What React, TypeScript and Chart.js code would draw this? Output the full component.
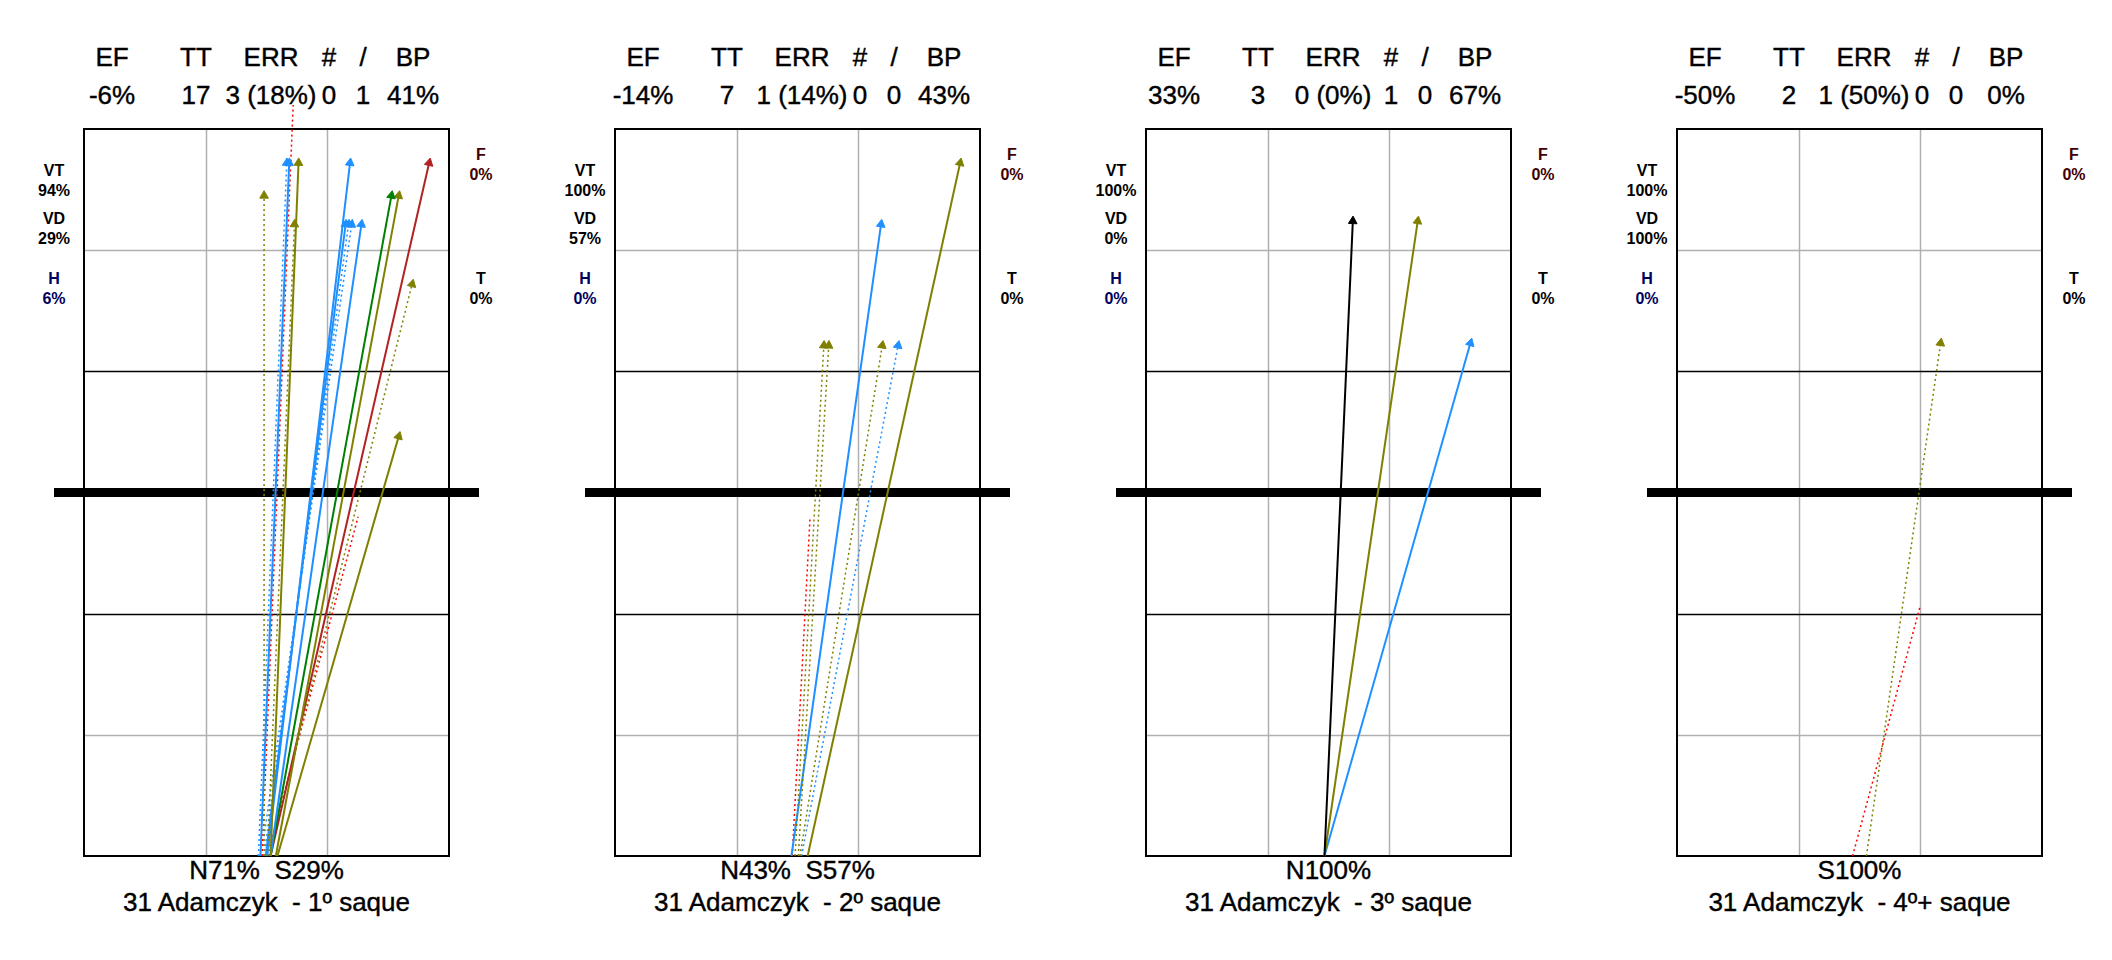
import React, { useEffect, useRef } from 'react';
import { Chart, registerables } from 'chart.js';

Chart.register(...registerables);

// court in metres: x 0..9, y 0..18 (serve from y=0)
const panelTitles = ['31 Adamczyk  - 1º saque', '31 Adamczyk  - 2º saque', '31 Adamczyk  - 3º saque', '31 Adamczyk  - 4º+ saque'];
const headerLabels = ['EF', 'TT', 'ERR', '#', '/', 'BP'];
const headerValues = [
  ['-6%', '17', '3 (18%)', '0', '1', '41%'],
  ['-14%', '7', '1 (14%)', '0', '0', '43%'],
  ['33%', '3', '0 (0%)', '1', '0', '67%'],
  ['-50%', '2', '1 (50%)', '0', '0', '0%'],
];
const zoneLabels = [
  ['94%', '29%', '6%'],
  ['100%', '57%', '0%'],
  ['100%', '0%', '0%'],
  ['100%', '100%', '0%'],
];
const sideLabels = ['N71%  S29%', 'N43%  S57%', 'N100%', 'S100%'];

// [startX, endX, endY, colour, dotted, head]
type Serve = [number, number, number, string, boolean, boolean];
const serves1: Serve[] = [
  [4.35, 5.06, 17.16, '#1e90ff', false, true],
  [4.3, 5.0, 17.16, '#1e90ff', true, true],
  [4.6, 5.29, 17.16, '#808000', false, true],
  [4.44, 4.44, 16.35, '#808000', true, true],
  [4.39, 5.17, 18.9, '#ff0000', true, false],
  [4.52, 5.19, 15.64, '#808000', true, true],
  [4.52, 6.56, 17.16, '#1e90ff', false, true],
  [4.44, 6.52, 15.64, '#1e90ff', true, true],
  [4.48, 6.45, 15.64, '#1e90ff', false, true],
  [4.37, 6.6, 15.64, '#1e90ff', true, true],
  [4.6, 6.84, 15.64, '#1e90ff', false, true],
  [4.6, 7.58, 16.35, '#008000', false, true],
  [4.73, 7.76, 16.35, '#808000', false, true],
  [4.6, 8.51, 17.16, '#b22222', false, true],
  [4.56, 8.09, 14.16, '#808000', true, true],
  [4.77, 7.76, 10.39, '#808000', false, true],
  [4.52, 6.76, 8.4, '#ff0000', true, false],
];
const serves2: Serve[] = [
  [4.44, 5.15, 12.64, '#808000', true, true],
  [4.52, 5.27, 12.64, '#808000', true, true],
  [4.56, 6.59, 12.64, '#808000', true, true],
  [4.6, 6.98, 12.64, '#1e90ff', true, true],
  [4.35, 6.56, 15.64, '#1e90ff', false, true],
  [4.75, 8.51, 17.16, '#808000', false, true],
  [4.37, 4.81, 8.4, '#ff0000', true, false],
];
const serves3: Serve[] = [
  [4.4, 5.1, 15.72, '#000000', false, true],
  [4.4, 6.7, 15.72, '#808000', false, true],
  [4.4, 8.0, 12.7, '#1e90ff', false, true],
];
const serves4: Serve[] = [
  [4.67, 6.5, 12.7, '#808000', true, true],
  [4.33, 6.0, 6.2, '#ff0000', true, false],
];
const allServes = [serves1, serves2, serves3, serves4];

const FONT = '"Liberation Sans", Arial, sans-serif';
const FRAME_W = 365;
const FRAME_H = 727;
const FRAME_TOP = 129;
const PAD = { left: 30, right: 30, top: 24, bottom: 6 };

const courtPlugin = {
  id: 'court',
  beforeDatasetsDraw(chart: any) {
    const { ctx, scales } = chart;
    const x = scales.x, y = scales.y;
    const l = x.getPixelForValue(0), r = x.getPixelForValue(9);
    const t = y.getPixelForValue(18), b = y.getPixelForValue(0);
    ctx.save();
    ctx.lineWidth = 1.5;
    ctx.strokeStyle = '#b0b0b0';
    [3, 6].forEach((v) => {
      const px = Math.round(x.getPixelForValue(v)) + 0.5;
      ctx.beginPath(); ctx.moveTo(px, t); ctx.lineTo(px, b); ctx.stroke();
    });
    [3, 15].forEach((v) => {
      const py = Math.round(y.getPixelForValue(v)) + 0.5;
      ctx.beginPath(); ctx.moveTo(l, py); ctx.lineTo(r, py); ctx.stroke();
    });
    ctx.strokeStyle = '#000';
    [6, 12].forEach((v) => {
      const py = Math.round(y.getPixelForValue(v)) + 0.5;
      ctx.beginPath(); ctx.moveTo(l, py); ctx.lineTo(r, py); ctx.stroke();
    });
    ctx.lineWidth = 2;
    ctx.strokeRect(l, t, r - l, b - t);
    const ny = y.getPixelForValue(9);
    ctx.lineWidth = 9;
    ctx.beginPath(); ctx.moveTo(l - 30, ny); ctx.lineTo(r + 30, ny); ctx.stroke();
    ctx.restore();
  },
};

const Court: React.FC<{ serves: Serve[] }> = ({ serves }) => {
  const ref = useRef<HTMLCanvasElement>(null);
  useEffect(() => {
    if (!ref.current) return;
    const datasets = serves.map(([sx, ex, ey, c, dotted, head]) => {
      const angle = (Math.atan2(ex - sx, ey) * 180) / Math.PI;
      return {
        data: [{ x: sx, y: 0 }, { x: ex, y: ey }],
        borderColor: c,
        backgroundColor: c,
        borderWidth: dotted ? 1.5 : 2,
        borderDash: dotted ? [2, 3] : [],
        pointRadius: [0, head ? 5 : 0],
        pointStyle: 'triangle',
        pointRotation: [0, angle],
        pointBorderWidth: 1,
        showLine: true,
        clip: false,
      };
    });
    const chart = new Chart(ref.current, {
      type: 'scatter',
      data: { datasets },
      options: {
        animation: false,
        responsive: true,
        maintainAspectRatio: false,
        layout: { padding: PAD },
        plugins: { legend: { display: false }, tooltip: { enabled: false } },
        scales: {
          x: { type: 'linear', min: 0, max: 9, display: false },
          y: { type: 'linear', min: 0, max: 18, display: false },
        },
      },
      plugins: [courtPlugin],
    } as any);
    return () => chart.destroy();
  }, [serves]);
  return <canvas ref={ref} />;
};

const headerX = [28, 112, 187, 245, 279, 329];

const Panel: React.FC<{ i: number }> = ({ i }) => {
  const left = 84 + 531 * i;
  const abs = (x: number, y: number, extra: React.CSSProperties = {}): React.CSSProperties => ({
    position: 'absolute', left: left + x, top: y, transform: 'translate(-50%, -50%)', whiteSpace: 'pre', ...extra,
  });
  const small: React.CSSProperties = { fontSize: 16, fontWeight: 'bold', textAlign: 'center', lineHeight: '20px' };
  const big: React.CSSProperties = { fontSize: 26, WebkitTextStroke: '0.4px #000' };
  return (
    <>
      {headerLabels.map((h, k) => (
        <div key={'h' + k} style={abs(headerX[k], 57, big)}>{h}</div>
      ))}
      {headerValues[i].map((h, k) => (
        <div key={'v' + k} style={abs(headerX[k], 95, big)}>{h}</div>
      ))}
      <div style={abs(-30, 181, { ...small })}>VT<br />{zoneLabels[i][0]}</div>
      <div style={abs(-30, 229, { ...small })}>VD<br />{zoneLabels[i][1]}</div>
      <div style={abs(-30, 289, { ...small, color: '#000060' })}>H<br />{zoneLabels[i][2]}</div>
      <div style={abs(FRAME_W + 32, 165, { ...small, color: '#400000' })}>F<br />0%</div>
      <div style={abs(FRAME_W + 32, 289, { ...small })}>T<br />0%</div>
      <div style={abs(FRAME_W / 2, 870, big)}>{sideLabels[i]}</div>
      <div style={abs(FRAME_W / 2, 902, big)}>{panelTitles[i]}</div>
      <div style={{
        position: 'absolute', left: left - PAD.left, top: FRAME_TOP - PAD.top,
        width: FRAME_W + PAD.left + PAD.right, height: FRAME_H + PAD.top + PAD.bottom,
      }}>
        <Court serves={allServes[i]} />
      </div>
    </>
  );
};

export default function App() {
  useEffect(() => {
    document.body.style.margin = '0';
  }, []);
  return (
    <div style={{ position: 'relative', width: 2112, height: 960, background: '#fff', fontFamily: FONT, color: '#000' }}>
      {[0, 1, 2, 3].map((i) => <Panel key={i} i={i} />)}
    </div>
  );
}
